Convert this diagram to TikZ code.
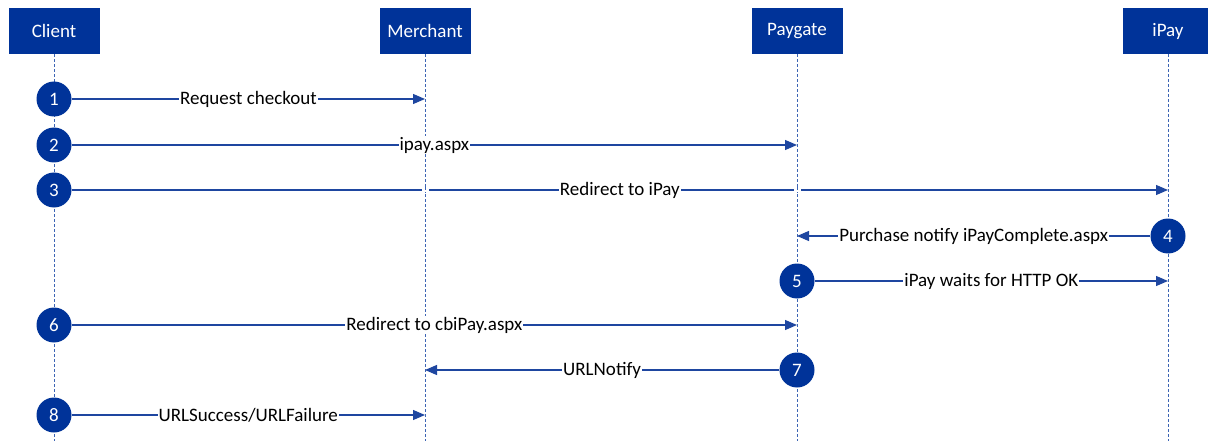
\documentclass[tikz,border=0pt]{standalone}
\usepackage{fontspec}
\setmainfont{Carlito}
\usetikzlibrary{arrows.meta}
\definecolor{hdblue}{RGB}{0,51,153}
\definecolor{lnblue}{RGB}{30,70,160}
\definecolor{lfblue}{RGB}{60,100,180}

\begin{document}
\begin{tikzpicture}[x=1pt,y=-1pt,
	every node/.style={font=\fontsize{19}{23}\selectfont},
	actor/.style={fill=hdblue,text=white,minimum width=91pt,minimum height=46pt,inner sep=0pt},
	stepno/.style={circle,fill=hdblue,text=white,minimum size=35pt,inner sep=0pt},
	life/.style={draw=lfblue,line width=0.9pt,dash pattern=on 3pt off 2pt},
	msg/.style={draw=lnblue,line width=1.2pt,-{Triangle[length=12pt,width=10pt]}},
	lbl/.style={fill=white,text=black,inner sep=1pt},
	gap/.style={fill=white,minimum width=7pt,minimum height=5pt,inner sep=0pt}]
\useasboundingbox (0,0) rectangle (1208,441);
\coordinate (bottom) at (0,441);
\node[actor] (client) at (54,31) {Client};
\node[actor] (merchant) at (425,31) {Merchant};
\node[actor] (paygate) at (797,31) {Paygate};
\node[actor] (ipay) at (1168,31) {iPay};
\draw[life] (client.south) -- (client |- bottom);
\draw[life] (merchant.south) -- (merchant |- bottom);
\draw[life] (paygate.south) -- (paygate |- bottom);
\draw[life] (ipay.south) -- (ipay |- bottom);
\node[stepno] (s1) at (54,99) {1};
\node[stepno] (s2) at (54,145) {2};
\node[stepno] (s3) at (54,190) {3};
\node[stepno] (s4) at (1168,236) {4};
\node[stepno] (s5) at (797,281) {5};
\node[stepno] (s6) at (54,325) {6};
\node[stepno] (s7) at (797,370) {7};
\node[stepno] (s8) at (54,415) {8};
\draw[msg] (s1) -- (merchant |- s1) node[lbl,midway] {Request checkout};
\draw[msg] (s2) -- (paygate |- s2) node[lbl,midway] {ipay.aspx};
\draw[msg] (s3) -- (ipay |- s3) node[lbl,midway] {Redirect to iPay};
\draw[msg] (s4) -- (paygate |- s4) node[lbl,midway] {Purchase notify iPayComplete.aspx};
\draw[msg] (s5) -- (ipay |- s5) node[lbl,midway] {iPay waits for HTTP OK};
\draw[msg] (s6) -- (paygate |- s6) node[lbl,midway] {Redirect to cbiPay.aspx};
\draw[msg] (s7) -- (merchant |- s7) node[lbl,midway] {URLNotify};
\draw[msg] (s8) -- (merchant |- s8) node[lbl,midway] {URLSuccess/URLFailure};
\node[gap] (gap1) at (merchant |- s3) {};
\node[gap] (gap2) at (paygate |- s3) {};
\draw[life] (gap1.north) -- (gap1.south);
\draw[life] (gap2.north) -- (gap2.south);
\end{tikzpicture}
\end{document}
